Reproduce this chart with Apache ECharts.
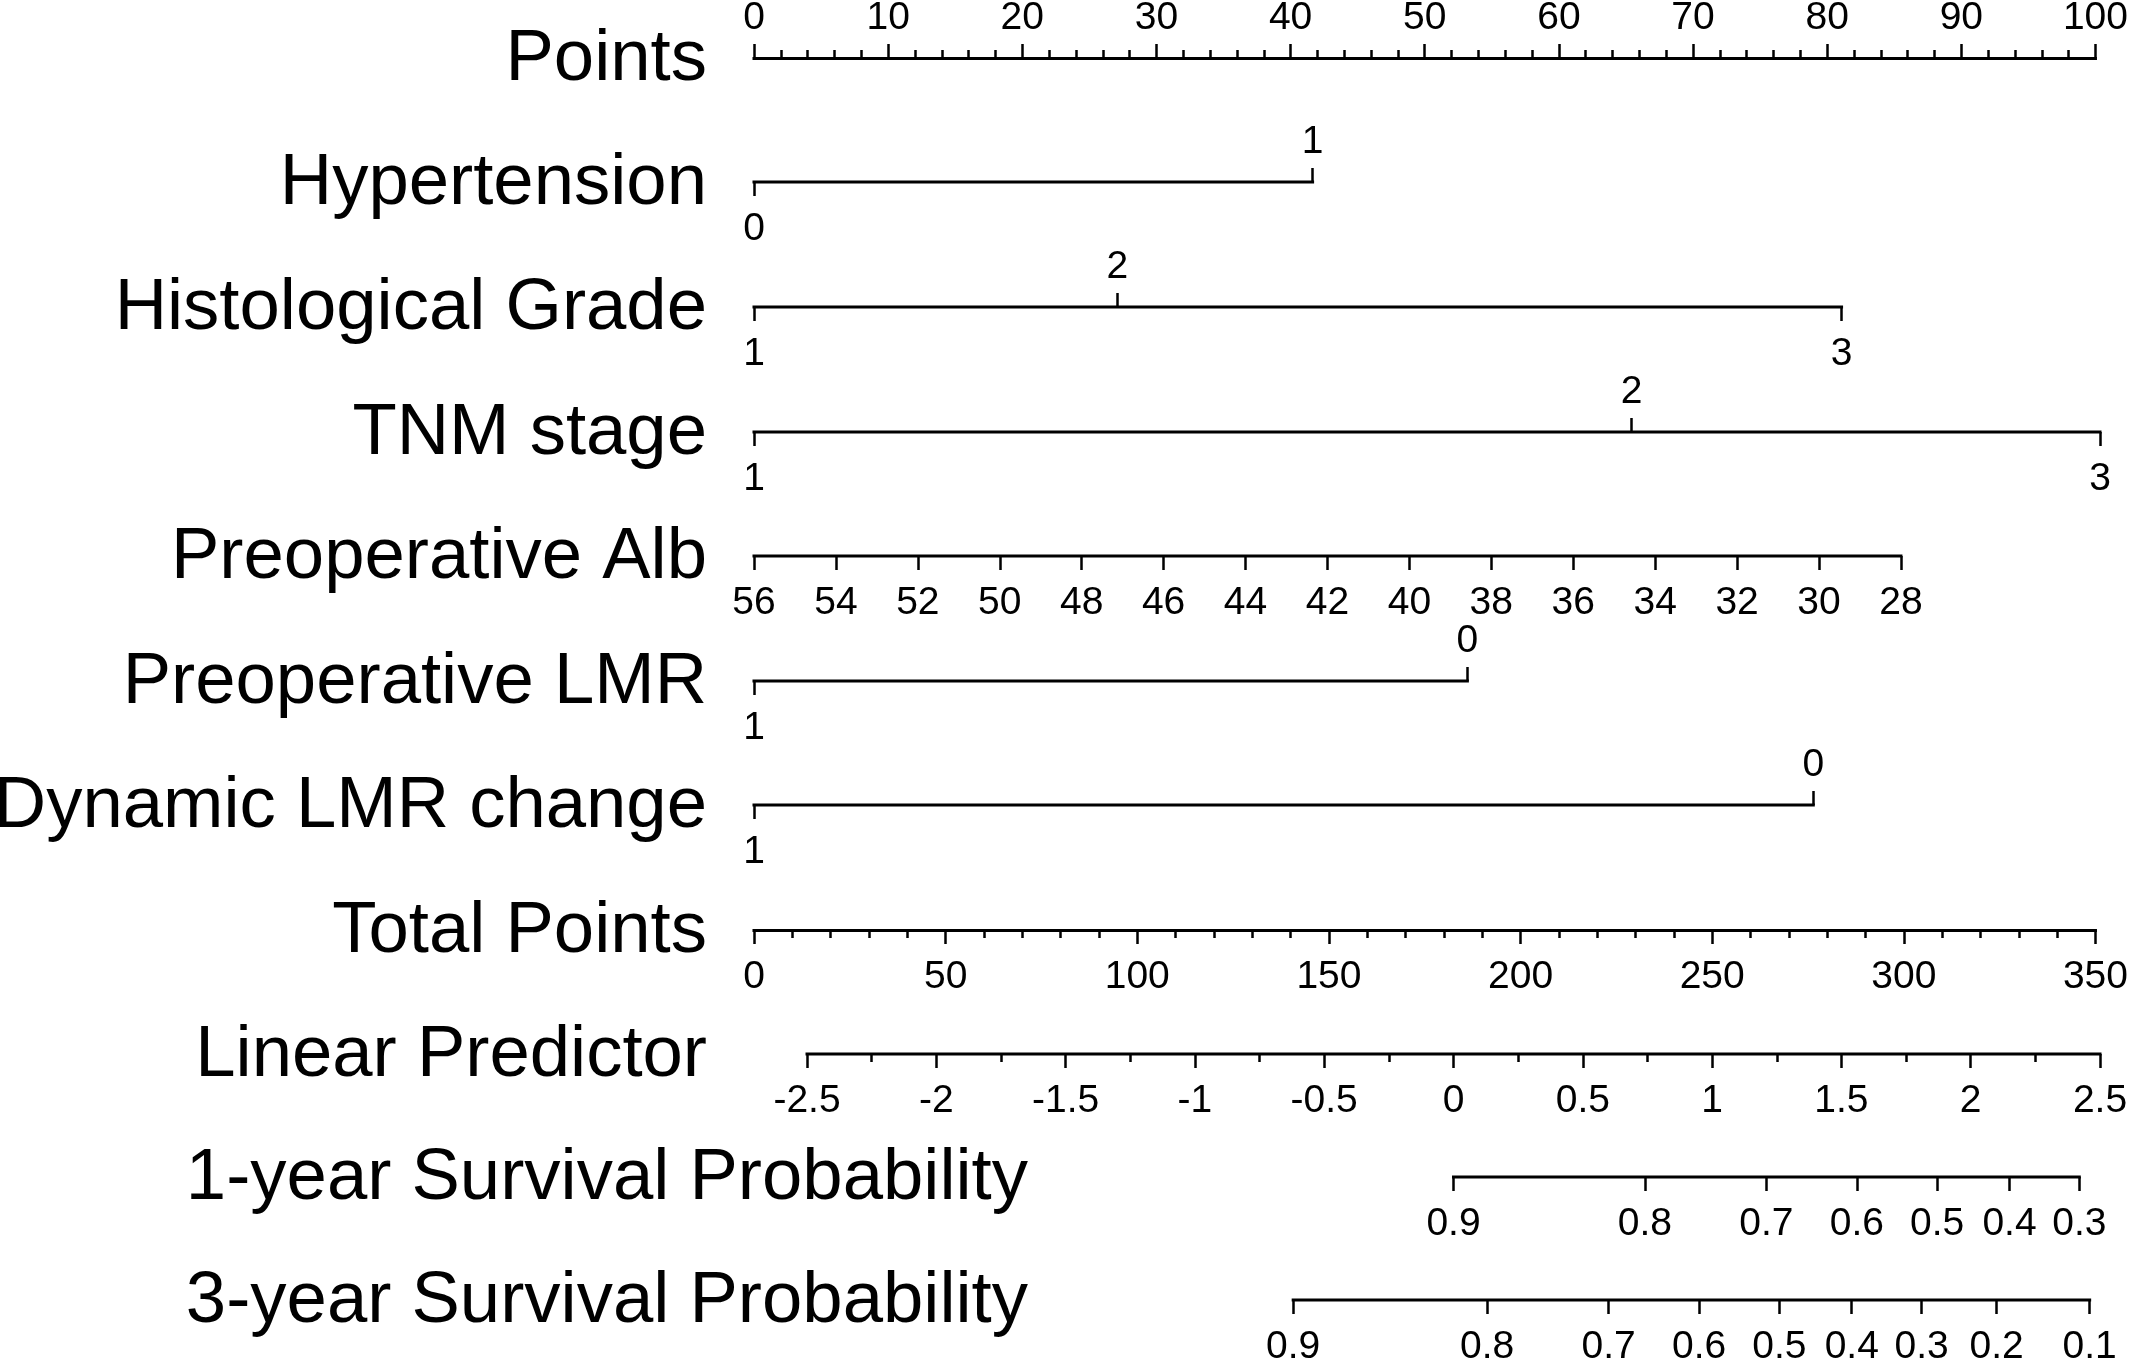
<!DOCTYPE html>
<html><head><meta charset="utf-8">
<script src="https://cdn.jsdelivr.net/npm/echarts@6/dist/echarts.min.js"></script>
<style>html,body{margin:0;padding:0;background:#fff}#c{width:2131px;height:1360px}</style>
</head><body><div id="c"></div><script>
// ---------------- data ----------------
const rowNames = ['Points','Hypertension','Histological Grade','TNM stage','Preoperative Alb',
  'Preoperative LMR','Dynamic LMR change','Total Points','Linear Predictor',
  '1-year Survival Probability','3-year Survival Probability'];

const pointsRange = [0, 100];
const pointsInterval = 10;

const hypertensionLevels = ['0', '1'];
const hypertensionPoints = [0, 41.5];
const hypertensionSide = ['below', 'above'];

const gradeLevels = ['1', '2', '3'];
const gradePoints = [0, 27.0, 80.8];
const gradeSide = ['below', 'above', 'below'];

const tnmLevels = ['1', '2', '3'];
const tnmPoints = [0, 65.2, 100];
const tnmSide = ['below', 'above', 'below'];

const albTicks = [56, 54, 52, 50, 48, 46, 44, 42, 40, 38, 36, 34, 32, 30, 28];
const albAtZeroPoints = 56;      // Alb value at 0 points
const albAtHundredPoints = 23.14; // Alb value at 100 points

const lmrLevels = ['1', '0'];
const lmrPoints = [0, 53.0];
const lmrSide = ['below', 'above'];

const dynLevels = ['1', '0'];
const dynPoints = [0, 78.7];
const dynSide = ['below', 'above'];

const totalRange = [0, 350];
const totalInterval = 50;

const lpMajorTicks = [-2.5, -2, -1.5, -1, -0.5, 0, 0.5, 1, 1.5, 2, 2.5];
const lpMinorTicks = [-2.25, -1.75, -1.25, -0.75, -0.25, 0.25, 0.75, 1.25, 1.75, 2.25];
const lpAtZeroTotal = -2.705;   // linear predictor at 0 total points
const lpAtMaxTotal = 2.5;

const surv1Labels = ['0.9', '0.8', '0.7', '0.6', '0.5', '0.4', '0.3'];
const surv1LP = [0.0, 0.74, 1.21, 1.56, 1.87, 2.15, 2.42];
const surv3Labels = ['0.9', '0.8', '0.7', '0.6', '0.5', '0.4', '0.3', '0.2', '0.1'];
const surv3LP = [-0.62, 0.13, 0.60, 0.95, 1.26, 1.54, 1.81, 2.10, 2.46];

// ---------------- layout ----------------
const FONT = '"Liberation Sans", Arial, Helvetica, sans-serif';
const ROW_Y = [58, 182, 307, 432, 556, 681, 805, 930, 1054, 1177, 1300];
const AX_LEFT = 754, AX_RIGHT = 31;
const TITLE_RIGHT = 707, SURV_TITLE_RIGHT = 1028, TITLE_DY = 2;
const TICK_FONT = 39, TITLE_FONT = 72.5;
const MARGIN_TOP = 20, MARGIN_BOTTOM = 28;
const MAJOR = 14, MINOR = 8;
const LINE_W = 3, TICK_W = 2.5;

const grids = [], xAxes = [], yAxes = [], series = [], graphics = [];

function addGrid(y) {
  const gi = grids.length;
  grids.push({ left: AX_LEFT, right: AX_RIGHT, top: y, height: 0 });
  yAxes.push({ gridIndex: gi, type: 'value', min: 0, max: 1, show: false });
  return gi;
}
function makeAxis(gi, min, max, position, o) {
  o = o || {};
  const ax = {
    gridIndex: gi, type: 'value', min: min, max: max, position: position,
    inverse: !!o.inverse,
    splitLine: { show: false },
    axisLine: { show: !!o.line, onZero: false, lineStyle: { color: '#000', width: LINE_W, cap: 'square' } },
    axisTick: { show: o.ticks !== false, inside: false, length: o.tickLen || MAJOR,
      lineStyle: { color: '#000', width: TICK_W } },
    minorTick: { show: !!o.minor, splitNumber: o.minor || 5, length: MINOR,
      lineStyle: { color: '#000', width: TICK_W } },
    axisLabel: { show: o.labels !== false, margin: position === 'top' ? MARGIN_TOP : MARGIN_BOTTOM,
      color: '#000', fontFamily: FONT, fontSize: TICK_FONT, hideOverlap: false },
    silent: true
  };
  if (o.interval !== undefined) ax.interval = o.interval;
  if (o.values) { ax.axisTick.customValues = o.values; ax.axisLabel.customValues = o.values; }
  if (o.formatter) ax.axisLabel.formatter = o.formatter;
  xAxes.push(ax);
  return xAxes.length - 1;
}
function segment(ai, gi, a, b) {
  series.push({ type: 'line', xAxisIndex: ai, yAxisIndex: gi, data: [[a, 0], [b, 0]],
    symbol: 'none', clip: false, silent: true,
    lineStyle: { color: '#000', width: LINE_W, cap: 'square' } });
}
function lookup(vals, labs) {
  return function (v) {
    const i = vals.findIndex(x => Math.abs(x - v) < 1e-6);
    return i >= 0 ? labs[i] : '';
  };
}
function categoricalRow(row, levels, pts, sides) {
  const gi = addGrid(ROW_Y[row]);
  let first = -1;
  ['above', 'below'].forEach(side => {
    const vals = pts.filter((p, i) => sides[i] === side);
    const labs = levels.filter((p, i) => sides[i] === side);
    if (!vals.length) return;
    const ai = makeAxis(gi, pointsRange[0], pointsRange[1], side === 'above' ? 'top' : 'bottom',
      { values: vals, formatter: lookup(vals, labs) });
    if (first < 0) first = ai;
  });
  segment(first, gi, Math.min.apply(null, pts), Math.max.apply(null, pts));
}

// Points
(function () {
  const gi = addGrid(ROW_Y[0]);
  makeAxis(gi, pointsRange[0], pointsRange[1], 'top', { line: true, interval: pointsInterval, minor: 5 });
})();
categoricalRow(1, hypertensionLevels, hypertensionPoints, hypertensionSide);
categoricalRow(2, gradeLevels, gradePoints, gradeSide);
categoricalRow(3, tnmLevels, tnmPoints, tnmSide);
// Alb
(function () {
  const gi = addGrid(ROW_Y[4]);
  const ai = makeAxis(gi, albAtHundredPoints, albAtZeroPoints, 'bottom',
    { inverse: true, values: albTicks, formatter: v => String(Math.round(v)) });
  segment(ai, gi, albTicks[0], albTicks[albTicks.length - 1]);
})();
categoricalRow(5, lmrLevels, lmrPoints, lmrSide);
categoricalRow(6, dynLevels, dynPoints, dynSide);
// Total points
(function () {
  const gi = addGrid(ROW_Y[7]);
  makeAxis(gi, totalRange[0], totalRange[1], 'bottom', { line: true, interval: totalInterval, minor: 5 });
})();
// Linear predictor
(function () {
  const gi = addGrid(ROW_Y[8]);
  const ai = makeAxis(gi, lpAtZeroTotal, lpAtMaxTotal, 'bottom',
    { values: lpMajorTicks, formatter: v => String(Math.round(v * 10) / 10) });
  makeAxis(gi, lpAtZeroTotal, lpAtMaxTotal, 'bottom',
    { values: lpMinorTicks, labels: false, tickLen: MINOR });
  segment(ai, gi, lpMajorTicks[0], lpMajorTicks[lpMajorTicks.length - 1]);
})();
// Survival
[[9, surv1LP, surv1Labels], [10, surv3LP, surv3Labels]].forEach(function (r) {
  const gi = addGrid(ROW_Y[r[0]]);
  const ai = makeAxis(gi, lpAtZeroTotal, lpAtMaxTotal, 'bottom',
    { values: r[1], formatter: lookup(r[1], r[2]) });
  segment(ai, gi, r[1][0], r[1][r[1].length - 1]);
});

// Row titles
rowNames.forEach(function (name, i) {
  graphics.push({ type: 'text', silent: true,
    x: i >= 9 ? SURV_TITLE_RIGHT : TITLE_RIGHT, y: ROW_Y[i] + TITLE_DY,
    style: { text: name, fill: '#000', font: TITLE_FONT + 'px ' + FONT, align: 'right', verticalAlign: 'middle' } });
});

const chart = echarts.init(document.getElementById('c'), null, { renderer: 'canvas' });
chart.setOption({
  backgroundColor: '#fff',
  animation: false,
  grid: grids, xAxis: xAxes, yAxis: yAxes, series: series, graphic: graphics
});
</script></body></html>
